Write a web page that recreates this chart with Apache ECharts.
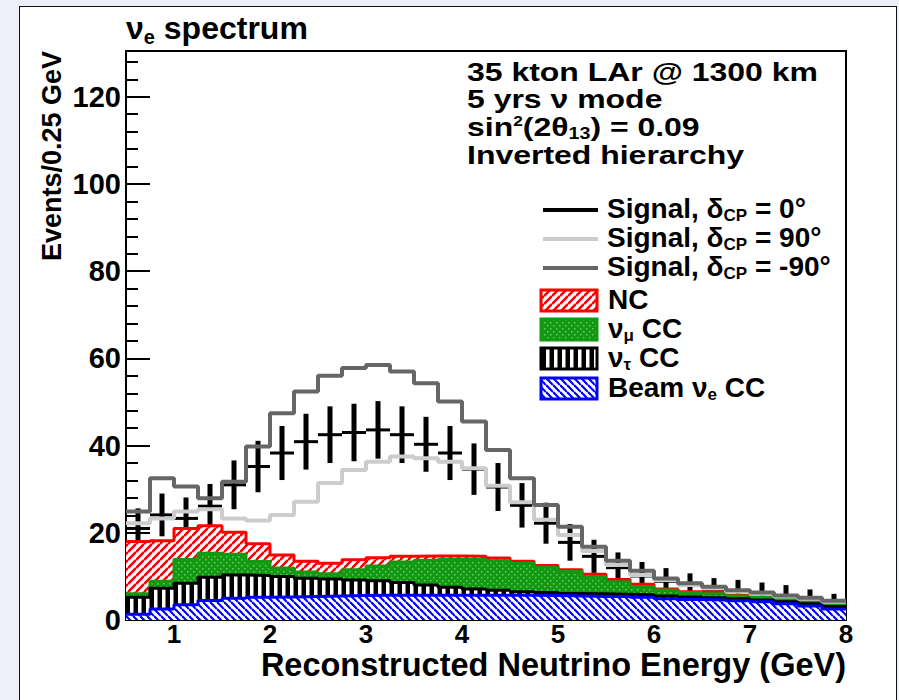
<!DOCTYPE html>
<html><head><meta charset="utf-8">
<script src="https://cdn.jsdelivr.net/npm/echarts@6/dist/echarts.min.js"></script>
<style>
html,body{margin:0;padding:0;background:#eef0f9;width:899px;height:700px;overflow:hidden;}
#panel{position:absolute;left:19px;top:6px;width:878px;height:710px;background:#fff;border:1.5px solid #111;box-sizing:border-box;}
#chart{position:absolute;left:0;top:0;width:899px;height:700px;}
</style></head><body>
<div id="panel"></div><div id="chart"></div>
<script>
// ---- data (events per 0.25 GeV bin) ----
const binLow = [0.5,0.75,1.0,1.25,1.5,1.75,2.0,2.25,2.5,2.75,3.0,3.25,3.5,3.75,4.0,4.25,4.5,4.75,5.0,5.25,5.5,5.75,6.0,6.25,6.5,6.75,7.0,7.25,7.5,7.75];
const binWidth = 0.25;
const xTickLabels = ['1','2','3','4','5','6','7','8'];
const yTickLabels = ['0','20','40','60','80','100','120'];
// background components (stacked: beam nue at the bottom, NC on top)
const beamNueCC = [1.3,2.5,3.5,4.5,5.0,5.2,5.3,5.4,5.5,5.6,5.7,5.7,5.7,5.7,5.7,5.7,5.7,5.6,5.5,5.4,5.4,5.2,4.9,4.7,4.6,4.4,4.2,3.7,3.2,2.5];
const nutauCC   = [3.9,4.8,4.9,5.3,5.3,5.0,4.7,4.2,3.9,3.6,3.3,2.9,2.3,1.8,1.4,1.1,0.8,0.7,0.6,0.6,0.5,0.6,0.6,0.6,0.5,0.5,0.4,0.5,0.5,0.6];
const numuCC    = [0.8,1.6,5.5,5.5,4.8,3.2,1.9,1.4,1.2,2.3,3.4,4.7,5.7,6.4,6.8,6.8,6.5,5.8,5.0,3.9,2.9,1.9,1.4,1.0,0.9,0.6,0.6,0.5,0.5,0.7];
const ncBkg     = [12.0,9.3,7.1,6.3,5.0,4.1,3.0,2.5,2.4,2.3,1.9,1.3,1.0,0.8,0.7,0.6,0.5,0.4,0.4,0.6,0.5,0.5,0.2,0.2,0.4,0.2,0.1,0.1,0.1,0.1];
// signal + background totals
const totalDcp0    = [21.0,24.1,23.3,26.1,31.0,35.2,38.3,40.9,42.5,43.0,43.6,42.5,40.3,38.3,34.6,30.5,26.3,22.2,17.8,14.6,12.0,10.1,8.9,7.9,7.0,6.6,6.1,5.6,4.8,4.0];
const errDcp0      = [4.6,4.9,4.8,5.1,5.6,5.9,6.2,6.4,6.5,6.6,6.6,6.5,6.3,6.2,5.9,5.5,5.1,4.7,4.2,3.8,3.5,3.2,3.0,2.8,2.6,2.6,2.5,2.4,2.2,2.0];
const totalDcp90   = [22.2,23.3,24.9,25.4,23.3,22.8,24.1,27.1,31.4,34.4,36.3,37.5,37.1,36.3,34.8,30.8,27.0,23.0,19.5,15.8,12.6,10.3,9.2,8.0,7.3,6.5,6.0,5.4,4.9,4.2];
const totalDcpM90  = [24.9,32.5,30.6,27.9,31.7,39.8,47.4,52.4,56.0,57.8,58.5,57.0,54.3,50.1,45.5,39.0,32.5,26.4,21.4,16.8,13.6,11.3,9.5,8.4,7.6,6.8,6.3,5.6,5.1,4.4];

// ---- helpers ----
function cumulate(){ const arrs=[...arguments]; return arrs[0].map((_,i)=>+arrs.reduce((s,a)=>s+a[i],0).toFixed(2)); }
const cumBeam = cumulate(beamNueCC);
const cumTau  = cumulate(beamNueCC, nutauCC);
const cumNumu = cumulate(beamNueCC, nutauCC, numuCC);
const cumNC   = cumulate(beamNueCC, nutauCC, numuCC, ncBkg);
function stepData(vals){
  const d = vals.map((v,i)=>[binLow[i], v]);
  d.push([binLow[binLow.length-1]+binWidth, vals[vals.length-1]]);
  return d;
}
function makePattern(w,h,draw){
  const c=document.createElement('canvas'); c.width=w; c.height=h;
  const g=c.getContext('2d'); draw(g,w,h);
  return {image:c, repeat:'repeat', imageWidth:w, imageHeight:h};
}
const RED='#ff0000', GREEN='#119911', BLUE='#0000ff', BLACK='#000000';
const patRed = makePattern(8,8,(g,s)=>{g.fillStyle='#fff';g.fillRect(0,0,s,s);g.strokeStyle=RED;g.lineWidth=2.6;
  [0,s,2*s].forEach(c=>{g.beginPath();g.moveTo(0,c);g.lineTo(s,c-s);g.stroke();});});
const patBlue = makePattern(7,7,(g,s)=>{g.fillStyle='#fff';g.fillRect(0,0,s,s);g.strokeStyle=BLUE;g.lineWidth=2.2;
  [-s,0,s].forEach(c=>{g.beginPath();g.moveTo(0,c);g.lineTo(s,s+c);g.stroke();});});
const patGreen = makePattern(6,6,(g,s)=>{g.fillStyle=GREEN;g.fillRect(0,0,s,s);g.fillStyle='#6fc46f';
  g.fillRect(1,1,1.5,1.5);g.fillRect(4,4,1.5,1.5);});
const patBlack = makePattern(8,8,(g,s)=>{g.fillStyle='#000';g.fillRect(0,0,s,s);g.fillStyle='#fff';g.fillRect(2,0,3.5,s);});

const FONT='"Liberation Sans", Arial, Helvetica, sans-serif';
function fillSeries(name,vals,color,pat,z){
  return {name, type:'line', step:'end', data:stepData(vals), symbol:'none', z,
    lineStyle:{color, width:3}, areaStyle:{color:pat, opacity:1, origin:'start'}, itemStyle:{color}};
}
function lineSeries(name,vals,color,z){
  return {name, type:'line', step:'end', data:stepData(vals), symbol:'none', z,
    lineStyle:{color, width:4}, itemStyle:{color}};
}
const errData = totalDcp0.map((v,i)=>[binLow[i], v, errDcp0[i]]);

const chart = echarts.init(document.getElementById('chart'), null, {renderer:'svg', width:899, height:700});
// rich text whose main glyphs are centred on y
function rtext(x,y,text,size,scaleX){
  const sub=Math.round(size*0.62), sup=Math.round(size*0.55);
  const rich = {
    t:{fontFamily:FONT, fontWeight:'bold', fontSize:size, lineHeight:size, verticalAlign:'top', color:'#000'},
    s:{fontFamily:FONT, fontWeight:'bold', fontSize:sub, lineHeight:sub, padding:[Math.round(size*0.47),0,0,0], verticalAlign:'top', color:'#000'},
    p:{fontFamily:FONT, fontWeight:'bold', fontSize:sup, lineHeight:sup, verticalAlign:'top', color:'#000'}
  };
  return {type:'text', x, y:y-size/2, scaleX:scaleX||1, z:50, style:{text, rich, align:'left', verticalAlign:'top'}};
}
function ptext(x,y,text,size,align,scaleX){
  return {type:'text', x, y, scaleX:scaleX||1, z:50, style:{text, font:'bold '+size+'px '+FONT, fill:'#000', align:align||'left', verticalAlign:'middle'}};
}
const legendLines = [
  {y:210, color:'#000', txt:'{t|Signal, δ}{s|CP}{t| = 0°}'},
  {y:239, color:'#cccccc', txt:'{t|Signal, δ}{s|CP}{t| = 90°}'},
  {y:268, color:'#666666', txt:'{t|Signal, δ}{s|CP}{t| = -90°}'}
];
const legendBoxes = [
  {y:290, color:RED, pat:patRed, txt:'{t|NC}'},
  {y:319, color:GREEN, pat:patGreen, txt:'{t|ν}{s|μ}{t| CC}'},
  {y:348, color:BLACK, pat:patBlack, txt:'{t|ν}{s|τ}{t| CC}'},
  {y:378, color:BLUE, pat:patBlue, txt:'{t|Beam ν}{s|e}{t| CC}'}
];
const ANN = 1.23;
const graphic = [];
graphic.push(rtext(126, 28, '{t|ν}{s|e}{t| spectrum}', 32));
graphic.push({type:'text', x:52, y:156, rotation:Math.PI/2, z:50, style:{text:'Events/0.25 GeV', font:'bold 27px '+FONT, fill:'#000', align:'center', verticalAlign:'middle'}});
graphic.push(ptext(846, 665, 'Reconstructed Neutrino Energy (GeV)', 32.5, 'right'));
graphic.push(ptext(467, 72, '35 kton LAr @ 1300 km', 26, 'left', ANN));
graphic.push(rtext(467, 99, '{t|5 yrs ν mode}', 26, ANN));
graphic.push(rtext(467, 127, '{t|sin}{p|2}{t|(2θ}{s|13}{t|) = 0.09}', 26, ANN));
graphic.push(ptext(467, 155, 'Inverted hierarchy', 26, 'left', ANN));
legendLines.forEach(l=>{
  graphic.push({type:'line', z:50, shape:{x1:543,y1:l.y,x2:598,y2:l.y}, style:{stroke:l.color, lineWidth:4}});
  graphic.push(rtext(607, l.y-2, l.txt, 28));
});
legendBoxes.forEach(b=>{
  graphic.push({type:'rect', z:50, shape:{x:541,y:b.y,width:56,height:21}, style:{fill:b.pat, stroke:b.color, lineWidth:3}});
  graphic.push(rtext(608, b.y+9, b.txt, 28));
});

chart.setOption({
  animation:false,
  grid:{left:126, right:53, top:51, bottom:80, show:true, borderColor:'#000', borderWidth:2, backgroundColor:'#fff'},
  xAxis:{type:'value', min:0.5, max:8, interval:0.5,
    axisLine:{show:true, lineStyle:{color:'#000', width:2}}, axisTick:{show:false}, splitLine:{show:false},
    axisLabel:{color:'#000', fontFamily:FONT, fontWeight:'bold', fontSize:26, lineHeight:22, margin:3,
      formatter:v=>{const s=String(v); return xTickLabels.indexOf(s)>=0 ? s : '';}}},
  yAxis:[
    {type:'value', min:0, max:130.5, interval:20,
     axisLine:{show:true, lineStyle:{color:'#000', width:2}},
     axisTick:{show:true, inside:true, length:24, lineStyle:{color:'#000', width:2}},
     splitLine:{show:false},
     axisLabel:{color:'#000', fontFamily:FONT, fontWeight:'bold', fontSize:29, margin:5,
       formatter:v=>{const s=String(v); return yTickLabels.indexOf(s)>=0 ? s : '';}}},
    {type:'value', min:0, max:130.5, interval:4, position:'left',
     axisLine:{show:false}, axisTick:{show:true, inside:true, length:12, lineStyle:{color:'#000', width:2}},
     axisLabel:{show:false}, splitLine:{show:false}}
  ],
  series:[
    {name:'Signal, δCP = 0° (data)', type:'custom', z:1, clip:true, data:errData, encode:{x:0, y:1},
     renderItem:(params, api)=>{
       const x=api.value(0), y=api.value(1), e=api.value(2);
       const a=api.coord([x,y]), b=api.coord([x+binWidth,y]);
       const t=api.coord([x+binWidth/2,y+e]), u=api.coord([x+binWidth/2,Math.max(0,y-e)]);
       return {type:'group', children:[
         {type:'line', shape:{x1:a[0],y1:a[1],x2:b[0],y2:b[1]}, style:{stroke:'#000', lineWidth:3}},
         {type:'line', shape:{x1:t[0],y1:t[1],x2:u[0],y2:u[1]}, style:{stroke:'#000', lineWidth:5}}
       ]};
     }},
    fillSeries('NC', cumNC, RED, patRed, 3),
    fillSeries('νμ CC', cumNumu, GREEN, patGreen, 4),
    fillSeries('ντ CC', cumTau, BLACK, patBlack, 5),
    fillSeries('Beam νe CC', cumBeam, BLUE, patBlue, 6),
    lineSeries('Signal, δCP = 90°', totalDcp90, '#cccccc', 10),
    lineSeries('Signal, δCP = -90°', totalDcpM90, '#666666', 11)
  ],
  graphic
});
</script></body></html>
